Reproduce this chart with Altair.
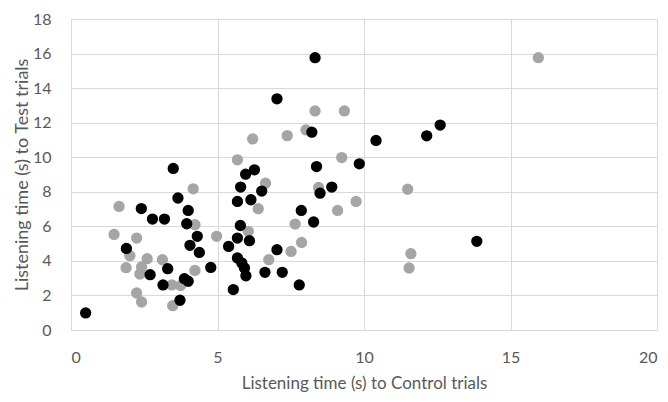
import altair as alt
import pandas as pd

black_x = [3.49, 3.65, 2.40, 2.78, 3.19, 4.00, 3.95, 4.31, 4.06, 4.38, 1.89, 3.30, 2.70, 4.77,
           3.87, 4.00, 3.14, 3.72, 0.50, 8.33, 7.03, 8.22, 8.38, 9.84, 6.26, 5.96, 5.79, 6.51,
           5.68, 6.14, 8.50, 8.90, 7.86, 8.28, 5.78, 5.68, 6.09, 5.38, 7.03, 5.68, 5.83, 5.92,
           5.97, 6.62, 7.21, 5.54, 7.79, 12.60, 12.14, 10.41, 13.85]
black_y = [9.35, 7.64, 7.03, 6.42, 6.42, 6.92, 6.15, 5.42, 4.90, 4.49, 4.72, 3.55, 3.20, 3.62,
           2.97, 2.82, 2.61, 1.72, 0.99, 15.76, 13.38, 11.45, 9.46, 9.62, 9.27, 9.02, 8.27, 8.04,
           7.44, 7.54, 7.92, 8.27, 6.92, 6.25, 6.05, 5.32, 5.17, 4.84, 4.65, 4.17, 3.88, 3.59,
           3.14, 3.34, 3.34, 2.34, 2.61, 11.86, 11.24, 10.97, 5.13]

grey_x = [4.17, 1.64, 4.23, 1.47, 2.24, 4.97, 2.01, 2.60, 3.12, 1.88, 2.41, 2.35, 4.23, 3.44,
          3.74, 2.24, 2.41, 3.47, 8.33, 9.33, 6.20, 7.38, 8.02, 5.68, 9.24, 6.64, 8.45, 6.39,
          9.73, 9.10, 7.65, 6.05, 7.87, 7.51, 6.75, 15.95, 11.49, 11.60, 11.54]
grey_y = [8.17, 7.15, 6.09, 5.53, 5.32, 5.42, 4.30, 4.13, 4.07, 3.61, 3.65, 3.24, 3.45, 2.61,
          2.57, 2.14, 1.62, 1.41, 12.68, 12.68, 11.06, 11.25, 11.58, 9.85, 9.98, 8.50, 8.25, 7.02,
          7.44, 6.92, 6.13, 5.71, 5.07, 4.55, 4.07, 15.76, 8.15, 4.42, 3.59]

series_names = ["Grey", "Black"]
series_colors = ["#a5a5a5", "#000000"]

x_ticks = [0, 5, 10, 15, 20]
y_ticks = [0, 2, 4, 6, 8, 10, 12, 14, 16, 18]

df = pd.concat([
    pd.DataFrame({"x": grey_x, "y": grey_y, "series": series_names[0], "ord": 0}),
    pd.DataFrame({"x": black_x, "y": black_y, "series": series_names[1], "ord": 1}),
], ignore_index=True)

FONT = "Lato"
TXT = "#595959"
GRID = "#d9d9d9"

chart = alt.Chart(df).mark_circle(size=128, opacity=1).encode(
    x=alt.X("x:Q", scale=alt.Scale(domain=[0, 20], nice=False),
            axis=alt.Axis(title="Listening time (s) to Control trials", values=x_ticks,
                          ticks=False, labelPadding=19, titlePadding=10,
                          labelFontSize=16, titleFontSize=17)),
    y=alt.Y("y:Q", scale=alt.Scale(domain=[0, 18], nice=False),
            axis=alt.Axis(title="Listening time (s) to Test trials", values=y_ticks,
                          ticks=False, labelPadding=20, titlePadding=1,
                          labelFontSize=16, titleFontSize=18)),
    color=alt.Color("series:N", scale=alt.Scale(domain=series_names, range=series_colors), legend=None),
    order=alt.Order("ord:Q"),
).properties(
    width=586, height=311,
    autosize=alt.AutoSizeParams(type="none"),
    padding={"left": 63, "top": 11, "right": 3, "bottom": 64},
).configure_axis(
    labelFont=FONT, titleFont=FONT, labelColor=TXT, titleColor=TXT,
    titleFontWeight="normal",
    gridColor=GRID, domainColor=GRID, gridWidth=1,
).configure_view(stroke=GRID)

chart.save("out.html", embed_options={"renderer": "svg", "actions": False})
